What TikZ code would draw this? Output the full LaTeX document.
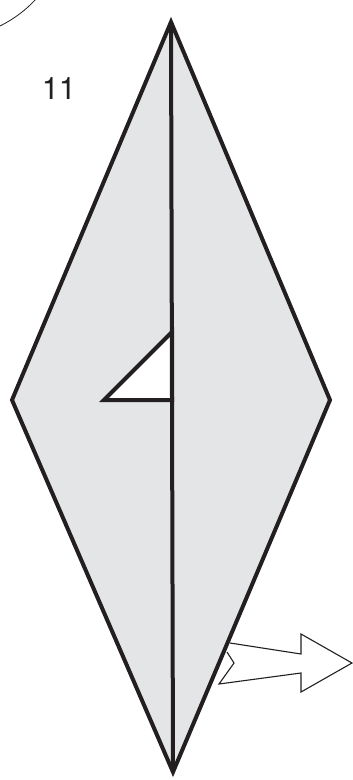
\documentclass[tikz,border=0pt]{standalone}
\usepackage{fontspec}
\newfontfamily\labelfont{TeX Gyre Heros}
\definecolor{kitefill}{RGB}{228,229,231}
\definecolor{inkdark}{RGB}{35,31,32}
\tikzset{
  kite/.style={draw=inkdark,line width=4pt,line join=miter,miter limit=10},
  thinline/.style={draw=inkdark,line width=1.1pt,line join=miter}
}
\begin{document}
\begin{tikzpicture}[x=1pt,y=-1pt]
\useasboundingbox (0,0) rectangle (353,780);
% thin arc, top left
\draw[thinline,line width=0.8pt] (0,26) .. controls (14,19) and (26,10) .. (36,-1);
% outlined arrow
\draw[thinline,fill=white] (230,643) -- (301,654) -- (301,634) -- (352,663) -- (301,692) -- (301,673) -- (219,684) -- (234,663) -- (227,652);
% kite
\draw[kite,fill=kitefill] (171,22) -- (330,400) -- (173,772) -- (12,400) -- cycle;
% white triangle
\draw[kite,fill=white] (104,400) -- (172,332) -- (172,400) -- cycle;
% spine
\draw[kite] (171,22) -- (173,772);
\node[inner sep=0pt,text=inkdark,anchor=base] (lbl) at (59,99.5) {\labelfont\fontsize{31}{31}\selectfont 11};
\end{tikzpicture}
\end{document}
